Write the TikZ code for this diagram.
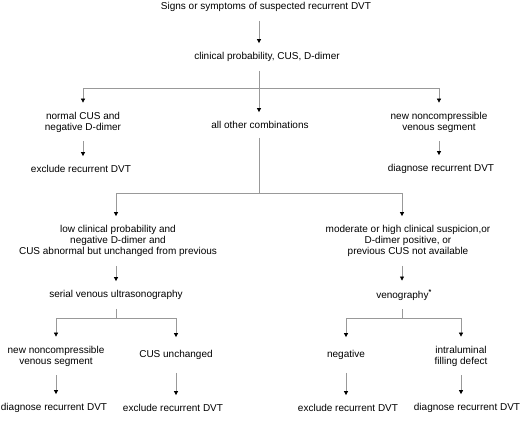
\documentclass[tikz,border=0pt]{standalone}
\usepackage{fontspec}
\setmainfont{Liberation Sans}
\usetikzlibrary{arrows.meta}

\tikzset{
  txt/.style={align=center, font=\fontsize{10}{11}\selectfont, inner xsep=0pt, inner ysep=9pt},
  tall/.style={txt, inner ysep=13pt},
  lin/.style={draw=black!40, line width=0.7pt},
  arr/.style={lin, -{Triangle[length=4pt,width=4pt,color=black]}},
}

\begin{document}
\begin{tikzpicture}[x=1pt, y=-1pt]
    \useasboundingbox (0,0) rectangle (520,422);

    % rows of text
    \node[txt] (signs) at (266,7) {Signs or symptoms of suspected recurrent DVT};
    \node[txt] (clin) at (267,57) {clinical probability, CUS, D-dimer};

    \node[txt] (normal) at (83,122) {normal CUS and\\negative D-dimer};
    \node[txt] (allother) at (260,125) {all other combinations};
    \node[txt] (newseg) at (439,122) {new noncompressible\\venous segment};
    \node[txt] (excl1) at (81,169) {exclude recurrent DVT};
    \node[txt] (diag1) at (441,169) {diagnose recurrent DVT};

    \node[txt] (low) at (118,241) {low clinical probability and\\negative D-dimer and\\CUS abnormal but unchanged from previous};
    \node[txt] (mod) at (408,241) {moderate or high clinical suspicion,or\\D-dimer positive, or\\previous CUS not available};
    \node[txt] (serial) at (116,295) {serial venous ultrasonography};
    \node[txt] (veno) at (404,295) {venography\textsuperscript{\textbf{*}}};

    \node[txt] (newseg2) at (56,356) {new noncompressible\\venous segment};
    \node[tall] (cusun) at (176,355) {CUS unchanged};
    \node[tall] (neg) at (346,355) {negative};
    \node[txt] (intra) at (461,356) {intraluminal\\filling defect};

    \node[txt] (diag2) at (54,408) {diagnose recurrent DVT};
    \node[txt] (excl2) at (173,408) {exclude recurrent DVT};
    \node[txt] (excl3) at (348,408) {exclude recurrent DVT};
    \node[txt] (diag3) at (467,408) {diagnose recurrent DVT};

    % branch points
    \coordinate (spine) at (259,88);
    \coordinate (j2) at (259,193);
    \coordinate (j3l) at (116,318);
    \coordinate (j3r) at (402,318);

    % connectors
    \draw[arr] (signs.south -| spine) -- (clin.north -| spine);
    \draw[arr] (clin.south -| spine) -- (allother.north -| spine);
    \draw[arr] (spine) -| (normal.north);
    \draw[arr] (spine) -| (newseg.north);
    \draw[arr] (normal.south) -- (normal.south |- excl1.north);
    \draw[arr] (newseg.south) -- (newseg.south |- diag1.north);

    \draw[lin] (allother.south -| j2) -- (j2);
    \draw[arr] (j2) -| (low.north -| serial);
    \draw[arr] (j2) -| (mod.north -| j3r);
    \draw[arr] (low.south -| serial) -- (serial.north);
    \draw[arr] (mod.south -| j3r) -- (veno.north -| j3r);

    \draw[lin] (serial.south) -- (j3l);
    \draw[arr] (j3l) -| (newseg2.north);
    \draw[arr] (j3l) -| (cusun.north);
    \draw[lin] (veno.south -| j3r) -- (j3r);
    \draw[arr] (j3r) -| (neg.north);
    \draw[arr] (j3r) -| (intra.north);

    \draw[arr] (newseg2.south) -- (newseg2.south |- diag2.north);
    \draw[arr] (cusun.south) -- (cusun.south |- excl2.north);
    \draw[arr] (neg.south) -- (neg.south |- excl3.north);
    \draw[arr] (intra.south) -- (intra.south |- diag3.north);
\end{tikzpicture}
\end{document}
